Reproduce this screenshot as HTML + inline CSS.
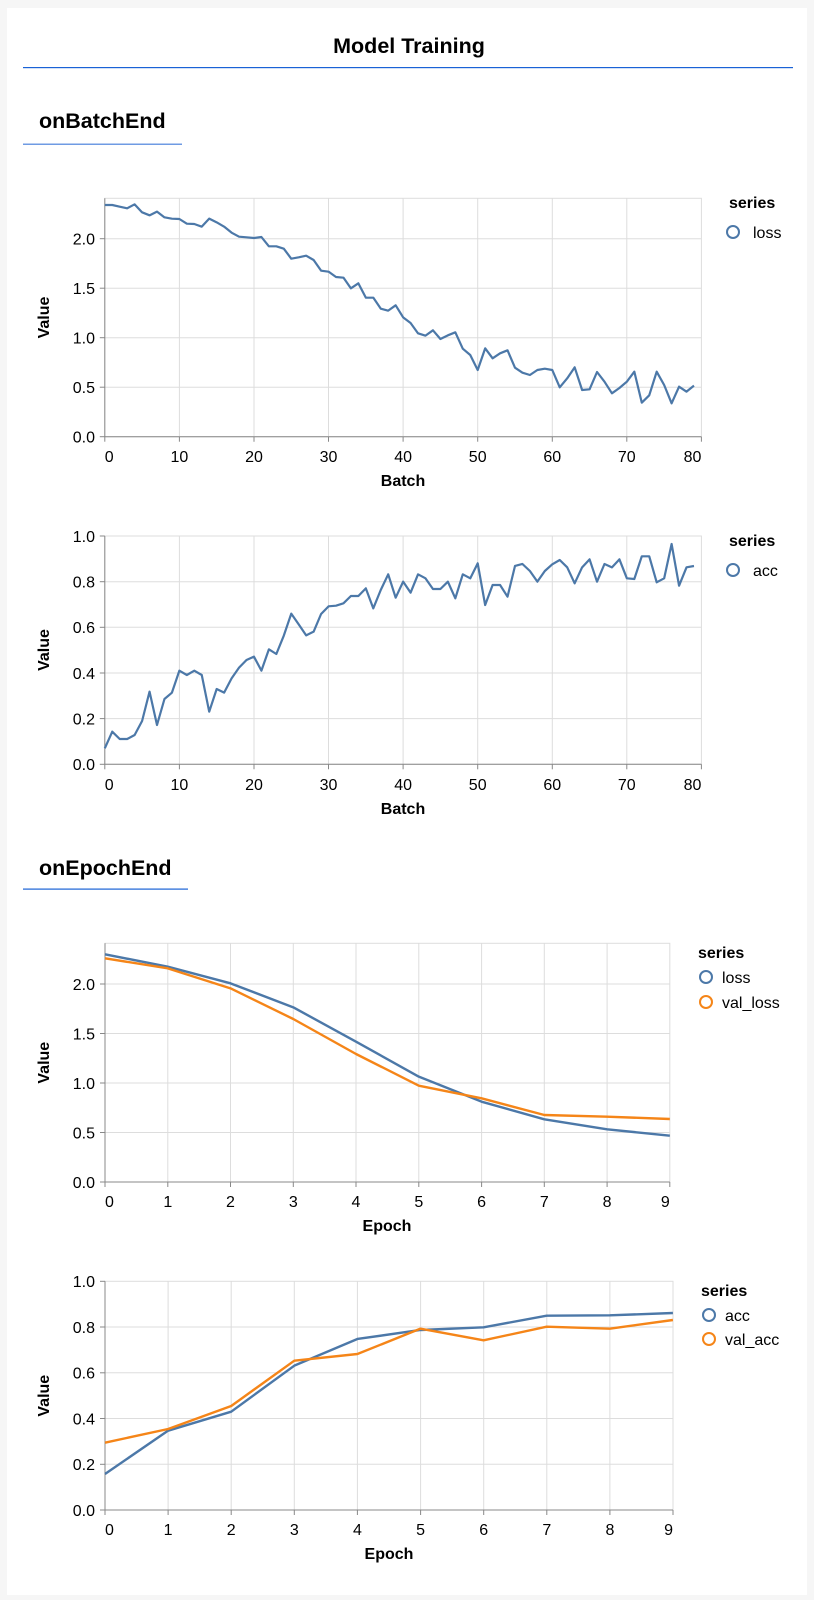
<!DOCTYPE html>
<html><head><meta charset="utf-8"><style>
html,body{margin:0;padding:0;background:#f6f6f6;}
svg{display:block;font-family:"Liberation Sans",Arial,sans-serif;}
</style></head><body>
<svg width="814" height="1600" viewBox="0 0 814 1600" xmlns="http://www.w3.org/2000/svg">
<rect x="0" y="0" width="814" height="1600" fill="#f6f6f6"/>
<rect x="7" y="8" width="800" height="1587" fill="#fff"/>
<text x="409" y="53" font-size="21.5" font-weight="bold" text-anchor="middle" fill="#000">Model Training</text>
<rect x="23" y="67" width="770" height="1.2" fill="#1a62d6"/>
<text x="39" y="128" font-size="21.5" font-weight="bold" fill="#000">onBatchEnd</text>
<rect x="23" y="143.5" width="159" height="1.5" fill="#6f9be3"/>
<text x="39" y="875" font-size="21.5" font-weight="bold" fill="#000">onEpochEnd</text>
<rect x="23" y="888.5" width="165" height="1.2" fill="#1a62d6"/>

<g font-size="16" fill="#000">
<!-- Chart 1 -->
<g stroke="#ddd" stroke-width="1" fill="none">
<rect x="104.8" y="198.3" width="596.6" height="238.4"/>
<line x1="104.8" x2="701.4" y1="238.7" y2="238.7"/><line x1="104.8" x2="701.4" y1="288.2" y2="288.2"/><line x1="104.8" x2="701.4" y1="337.7" y2="337.7"/><line x1="104.8" x2="701.4" y1="387.2" y2="387.2"/>
<line x1="179.4" x2="179.4" y1="198.3" y2="436.7"/><line x1="254" x2="254" y1="198.3" y2="436.7"/><line x1="328.5" x2="328.5" y1="198.3" y2="436.7"/><line x1="403.1" x2="403.1" y1="198.3" y2="436.7"/><line x1="477.7" x2="477.7" y1="198.3" y2="436.7"/><line x1="552.3" x2="552.3" y1="198.3" y2="436.7"/><line x1="626.8" x2="626.8" y1="198.3" y2="436.7"/>
</g>
<g stroke="#888" stroke-width="1">
<line x1="104.8" x2="104.8" y1="198.3" y2="436.7"/><line x1="104.8" x2="701.4" y1="436.7" y2="436.7"/>
<line x1="99.8" x2="104.8" y1="436.7" y2="436.7"/><line x1="99.8" x2="104.8" y1="387.2" y2="387.2"/><line x1="99.8" x2="104.8" y1="337.7" y2="337.7"/><line x1="99.8" x2="104.8" y1="288.2" y2="288.2"/><line x1="99.8" x2="104.8" y1="238.7" y2="238.7"/>
<line x1="104.8" x2="104.8" y1="436.7" y2="441.7"/><line x1="179.4" x2="179.4" y1="436.7" y2="441.7"/><line x1="254" x2="254" y1="436.7" y2="441.7"/><line x1="328.5" x2="328.5" y1="436.7" y2="441.7"/><line x1="403.1" x2="403.1" y1="436.7" y2="441.7"/><line x1="477.7" x2="477.7" y1="436.7" y2="441.7"/><line x1="552.3" x2="552.3" y1="436.7" y2="441.7"/><line x1="626.8" x2="626.8" y1="436.7" y2="441.7"/><line x1="701.4" x2="701.4" y1="436.7" y2="441.7"/>
</g>
<g text-anchor="end"><text x="95" y="442.5">0.0</text><text x="95" y="393">0.5</text><text x="95" y="343.5">1.0</text><text x="95" y="294">1.5</text><text x="95" y="244.5">2.0</text></g>
<g text-anchor="middle"><text x="104.8" y="462" text-anchor="start">0</text><text x="179.4" y="462">10</text><text x="254" y="462">20</text><text x="328.5" y="462">30</text><text x="403.1" y="462">40</text><text x="477.7" y="462">50</text><text x="552.3" y="462">60</text><text x="626.8" y="462">70</text><text x="701.4" y="462" text-anchor="end">80</text></g>
<text x="403" y="486" font-weight="bold" text-anchor="middle">Batch</text>
<text transform="translate(49,317.5) rotate(-90)" font-weight="bold" text-anchor="middle">Value</text>
<polyline transform="translate(104.8,180) scale(7.458,0.33333)" fill="none" stroke="#4c78a8" stroke-width="2.2" vector-effect="non-scaling-stroke" stroke-linejoin="round" points="0,75 1,75 2,80 3,85 4,73 5,97 6,106 7,95 8,112 9,116 10,117 11,131 12,132 13,140 14,116 15,127 16,140 17,158 18,170 19,172 20,174 21,171 22,199 23,199 24,206 25,236 26,232 27,227 28,240 29,272 30,275 31,291 32,293 33,325 34,310 35,353 36,353 37,386 38,392 39,376 40,412 41,429 42,460 43,467 44,451 45,477 46,466 47,457 48,506 49,525 50,570 51,505 52,535 53,520 54,511 55,563 56,578 57,585 58,570 59,566 60,570 61,622 62,595 63,562 64,630 65,628 66,576 67,605 68,640 69,624 70,605 71,575 72,668 73,646 74,575 75,615 76,670 77,620 78,635 79,617"/>
<text x="729" y="208" font-weight="bold">series</text>
<circle cx="733" cy="232" r="6" fill="none" stroke="#4c78a8" stroke-width="2"/>
<text x="753" y="238">loss</text>

<!-- Chart 2 -->
<g stroke="#ddd" stroke-width="1" fill="none">
<rect x="104.8" y="536" width="596.6" height="228.3"/>
<line x1="104.8" x2="701.4" y1="581.7" y2="581.7"/><line x1="104.8" x2="701.4" y1="627.3" y2="627.3"/><line x1="104.8" x2="701.4" y1="673" y2="673"/><line x1="104.8" x2="701.4" y1="718.6" y2="718.6"/>
<line x1="179.4" x2="179.4" y1="536" y2="764.3"/><line x1="254" x2="254" y1="536" y2="764.3"/><line x1="328.5" x2="328.5" y1="536" y2="764.3"/><line x1="403.1" x2="403.1" y1="536" y2="764.3"/><line x1="477.7" x2="477.7" y1="536" y2="764.3"/><line x1="552.3" x2="552.3" y1="536" y2="764.3"/><line x1="626.8" x2="626.8" y1="536" y2="764.3"/>
</g>
<g stroke="#888" stroke-width="1">
<line x1="104.8" x2="104.8" y1="536" y2="764.3"/><line x1="104.8" x2="701.4" y1="764.3" y2="764.3"/>
<line x1="99.8" x2="104.8" y1="764.3" y2="764.3"/><line x1="99.8" x2="104.8" y1="718.6" y2="718.6"/><line x1="99.8" x2="104.8" y1="673" y2="673"/><line x1="99.8" x2="104.8" y1="627.3" y2="627.3"/><line x1="99.8" x2="104.8" y1="581.7" y2="581.7"/><line x1="99.8" x2="104.8" y1="536" y2="536"/>
<line x1="104.8" x2="104.8" y1="764.3" y2="769.3"/><line x1="179.4" x2="179.4" y1="764.3" y2="769.3"/><line x1="254" x2="254" y1="764.3" y2="769.3"/><line x1="328.5" x2="328.5" y1="764.3" y2="769.3"/><line x1="403.1" x2="403.1" y1="764.3" y2="769.3"/><line x1="477.7" x2="477.7" y1="764.3" y2="769.3"/><line x1="552.3" x2="552.3" y1="764.3" y2="769.3"/><line x1="626.8" x2="626.8" y1="764.3" y2="769.3"/><line x1="701.4" x2="701.4" y1="764.3" y2="769.3"/>
</g>
<g text-anchor="end"><text x="95" y="770">0.0</text><text x="95" y="724.4">0.2</text><text x="95" y="678.8">0.4</text><text x="95" y="633.1">0.6</text><text x="95" y="587.5">0.8</text><text x="95" y="541.8">1.0</text></g>
<g text-anchor="middle"><text x="104.8" y="790" text-anchor="start">0</text><text x="179.4" y="790">10</text><text x="254" y="790">20</text><text x="328.5" y="790">30</text><text x="403.1" y="790">40</text><text x="477.7" y="790">50</text><text x="552.3" y="790">60</text><text x="626.8" y="790">70</text><text x="701.4" y="790" text-anchor="end">80</text></g>
<text x="403" y="814" font-weight="bold" text-anchor="middle">Batch</text>
<text transform="translate(49,650) rotate(-90)" font-weight="bold" text-anchor="middle">Value</text>
<polyline transform="translate(104.8,515) scale(7.458,0.33333)" fill="none" stroke="#4c78a8" stroke-width="2.2" vector-effect="non-scaling-stroke" stroke-linejoin="round" points="0,700 1,650 2,672 3,672 4,660 5,618 6,530 7,630 8,552 9,533 10,467 11,480 12,467 13,480 14,590 15,522 16,533 17,490 18,458 19,435 20,425 21,467 22,403 23,417 24,362 25,296 26,328 27,361 28,350 29,297 30,274 31,272 32,265 33,243 34,243 35,220 36,280 37,225 38,178 39,248 40,200 41,233 42,178 43,190 44,222 45,222 46,200 47,250 48,178 49,190 50,145 51,270 52,210 53,210 54,245 55,153 56,147 57,168 58,200 59,168 60,148 61,135 62,157 63,205 64,157 65,133 66,200 67,147 68,157 69,133 70,190 71,192 72,124 73,124 74,202 75,190 76,87 77,212 78,157 79,153"/>
<text x="729" y="546" font-weight="bold">series</text>
<circle cx="733" cy="570" r="6" fill="none" stroke="#4c78a8" stroke-width="2"/>
<text x="753" y="576">acc</text>

<!-- Chart 3 -->
<g stroke="#ddd" stroke-width="1" fill="none">
<rect x="105" y="943.3" width="564.8" height="238.7"/>
<line x1="105" x2="669.8" y1="984" y2="984"/><line x1="105" x2="669.8" y1="1033.5" y2="1033.5"/><line x1="105" x2="669.8" y1="1083" y2="1083"/><line x1="105" x2="669.8" y1="1132.5" y2="1132.5"/>
<line x1="167.8" x2="167.8" y1="943.3" y2="1182"/><line x1="230.5" x2="230.5" y1="943.3" y2="1182"/><line x1="293.3" x2="293.3" y1="943.3" y2="1182"/><line x1="356" x2="356" y1="943.3" y2="1182"/><line x1="418.8" x2="418.8" y1="943.3" y2="1182"/><line x1="481.6" x2="481.6" y1="943.3" y2="1182"/><line x1="544.3" x2="544.3" y1="943.3" y2="1182"/><line x1="607.1" x2="607.1" y1="943.3" y2="1182"/>
</g>
<g stroke="#888" stroke-width="1">
<line x1="105" x2="105" y1="943.3" y2="1182"/><line x1="105" x2="669.8" y1="1182" y2="1182"/>
<line x1="100" x2="105" y1="1182" y2="1182"/><line x1="100" x2="105" y1="1132.5" y2="1132.5"/><line x1="100" x2="105" y1="1083" y2="1083"/><line x1="100" x2="105" y1="1033.5" y2="1033.5"/><line x1="100" x2="105" y1="984" y2="984"/>
<line x1="105" x2="105" y1="1182" y2="1187"/><line x1="167.8" x2="167.8" y1="1182" y2="1187"/><line x1="230.5" x2="230.5" y1="1182" y2="1187"/><line x1="293.3" x2="293.3" y1="1182" y2="1187"/><line x1="356" x2="356" y1="1182" y2="1187"/><line x1="418.8" x2="418.8" y1="1182" y2="1187"/><line x1="481.6" x2="481.6" y1="1182" y2="1187"/><line x1="544.3" x2="544.3" y1="1182" y2="1187"/><line x1="607.1" x2="607.1" y1="1182" y2="1187"/><line x1="669.8" x2="669.8" y1="1182" y2="1187"/>
</g>
<g text-anchor="end"><text x="95" y="1187.8">0.0</text><text x="95" y="1138.3">0.5</text><text x="95" y="1088.8">1.0</text><text x="95" y="1039.3">1.5</text><text x="95" y="989.8">2.0</text></g>
<g text-anchor="middle"><text x="105" y="1207" text-anchor="start">0</text><text x="167.8" y="1207">1</text><text x="230.5" y="1207">2</text><text x="293.3" y="1207">3</text><text x="356" y="1207">4</text><text x="418.8" y="1207">5</text><text x="481.6" y="1207">6</text><text x="544.3" y="1207">7</text><text x="607.1" y="1207">8</text><text x="669.8" y="1207" text-anchor="end">9</text></g>
<text x="387" y="1231" font-weight="bold" text-anchor="middle">Epoch</text>
<text transform="translate(49,1062.7) rotate(-90)" font-weight="bold" text-anchor="middle">Value</text>
<g transform="translate(105,900) scale(62.76,0.33333)" fill="none" stroke-width="2.4" stroke-linejoin="round">
<polyline vector-effect="non-scaling-stroke" stroke="#4c78a8" points="0,163 1,200 2,250 3,322 4,425 5,530 6,605 7,658 8,688 9,707"/>
<polyline vector-effect="non-scaling-stroke" stroke="#f58518" points="0,175 1,205 2,265 3,357 4,462 5,557 6,595 7,645 8,650 9,657"/>
</g>
<text x="698" y="958" font-weight="bold">series</text>
<circle cx="706" cy="977" r="6" fill="none" stroke="#4c78a8" stroke-width="2"/>
<text x="722" y="983">loss</text>
<circle cx="706" cy="1002" r="6" fill="none" stroke="#f58518" stroke-width="2"/>
<text x="722" y="1008">val_loss</text>

<!-- Chart 4 -->
<g stroke="#ddd" stroke-width="1" fill="none">
<rect x="105" y="1281.3" width="568" height="228.7"/>
<line x1="105" x2="673" y1="1327" y2="1327"/><line x1="105" x2="673" y1="1372.8" y2="1372.8"/><line x1="105" x2="673" y1="1418.5" y2="1418.5"/><line x1="105" x2="673" y1="1464.3" y2="1464.3"/>
<line x1="168.1" x2="168.1" y1="1281.3" y2="1510"/><line x1="231.2" x2="231.2" y1="1281.3" y2="1510"/><line x1="294.3" x2="294.3" y1="1281.3" y2="1510"/><line x1="357.4" x2="357.4" y1="1281.3" y2="1510"/><line x1="420.6" x2="420.6" y1="1281.3" y2="1510"/><line x1="483.7" x2="483.7" y1="1281.3" y2="1510"/><line x1="546.8" x2="546.8" y1="1281.3" y2="1510"/><line x1="609.9" x2="609.9" y1="1281.3" y2="1510"/>
</g>
<g stroke="#888" stroke-width="1">
<line x1="105" x2="105" y1="1281.3" y2="1510"/><line x1="105" x2="673" y1="1510" y2="1510"/>
<line x1="100" x2="105" y1="1510" y2="1510"/><line x1="100" x2="105" y1="1464.3" y2="1464.3"/><line x1="100" x2="105" y1="1418.5" y2="1418.5"/><line x1="100" x2="105" y1="1372.8" y2="1372.8"/><line x1="100" x2="105" y1="1327" y2="1327"/><line x1="100" x2="105" y1="1281.3" y2="1281.3"/>
<line x1="105" x2="105" y1="1510" y2="1515"/><line x1="168.1" x2="168.1" y1="1510" y2="1515"/><line x1="231.2" x2="231.2" y1="1510" y2="1515"/><line x1="294.3" x2="294.3" y1="1510" y2="1515"/><line x1="357.4" x2="357.4" y1="1510" y2="1515"/><line x1="420.6" x2="420.6" y1="1510" y2="1515"/><line x1="483.7" x2="483.7" y1="1510" y2="1515"/><line x1="546.8" x2="546.8" y1="1510" y2="1515"/><line x1="609.9" x2="609.9" y1="1510" y2="1515"/><line x1="673" x2="673" y1="1510" y2="1515"/>
</g>
<g text-anchor="end"><text x="95" y="1515.8">0.0</text><text x="95" y="1470.1">0.2</text><text x="95" y="1424.3">0.4</text><text x="95" y="1378.6">0.6</text><text x="95" y="1332.8">0.8</text><text x="95" y="1287.1">1.0</text></g>
<g text-anchor="middle"><text x="105" y="1535" text-anchor="start">0</text><text x="168.1" y="1535">1</text><text x="231.2" y="1535">2</text><text x="294.3" y="1535">3</text><text x="357.4" y="1535">4</text><text x="420.6" y="1535">5</text><text x="483.7" y="1535">6</text><text x="546.8" y="1535">7</text><text x="609.9" y="1535">8</text><text x="673" y="1535" text-anchor="end">9</text></g>
<text x="389" y="1559" font-weight="bold" text-anchor="middle">Epoch</text>
<text transform="translate(49,1395.7) rotate(-90)" font-weight="bold" text-anchor="middle">Value</text>
<g transform="translate(105,1220) scale(63.1,0.33333)" fill="none" stroke-width="2.4" stroke-linejoin="round">
<polyline vector-effect="non-scaling-stroke" stroke="#4c78a8" points="0,762 1,632 2,575 3,437 4,357 5,330 6,322 7,287 8,286 9,279"/>
<polyline vector-effect="non-scaling-stroke" stroke="#f58518" points="0,668 1,627 2,558 3,422 4,402 5,326 6,361 7,320 8,326 9,300"/>
</g>
<text x="701" y="1296" font-weight="bold">series</text>
<circle cx="709" cy="1315" r="6" fill="none" stroke="#4c78a8" stroke-width="2"/>
<text x="725" y="1321">acc</text>
<circle cx="709" cy="1339" r="6" fill="none" stroke="#f58518" stroke-width="2"/>
<text x="725" y="1345">val_acc</text>
</g>
</svg>
</body></html>
